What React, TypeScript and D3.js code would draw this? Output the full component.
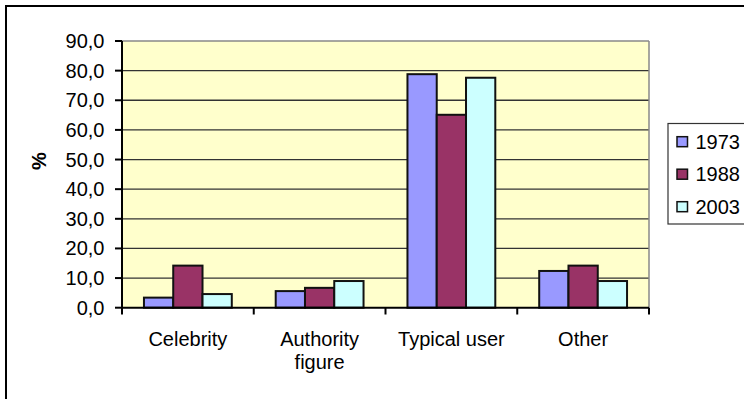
import React from "react";
import * as d3 from "d3";

// Chart data
const categories = ["Celebrity", "Authority figure", "Typical user", "Other"];
const categoryLines = [["Celebrity"], ["Authority", "figure"], ["Typical user"], ["Other"]];
const seriesNames = ["1973", "1988", "2003"];
const values1973 = [3.4, 5.6, 78.8, 12.4];
const values1988 = [14.2, 6.7, 65.1, 14.2];
const values2003 = [4.6, 9.0, 77.6, 9.0];
const yTicks = [0, 10, 20, 30, 40, 50, 60, 70, 80, 90];
const seriesColors = ["#9999FF", "#993366", "#CCFFFF"];

const W = 744;
const H = 399;
const plot = { left: 122, right: 649, top: 41, bottom: 307.7 };
const FONT = "'Liberation Sans', Arial, sans-serif";
const FS = 20;

const fmt = (v: number) => d3.format(".1f")(v).replace(".", ",");

export default function App() {
  const series = [values1973, values1988, values2003];
  const x = d3.scaleBand<string>().domain(categories).range([plot.left, plot.right]).padding(0);
  const xs = d3
    .scaleBand<string>()
    .domain(seriesNames)
    .range([0, x.bandwidth()])
    .paddingInner(0)
    .paddingOuter(0.75);
  const y = d3.scaleLinear().domain([0, 90]).range([plot.bottom, plot.top]);

  const boundaries = [...categories.map((c) => x(c)!), plot.right];

  return (
    <svg
      width={W}
      height={H}
      style={{ position: "absolute", left: 0, top: 0, background: "#fff" }}
      fontFamily={FONT}
    >
      {/* chart area frame */}
      <rect x={6} y={6} width={W + 10} height={H + 10} fill="#fff" stroke="#000" strokeWidth={2} />

      {/* plot area */}
      <rect
        x={plot.left}
        y={plot.top}
        width={plot.right - plot.left}
        height={plot.bottom - plot.top}
        fill="#FFFFCC"
      />
      {/* gridlines */}
      {yTicks.slice(1, -1).map((t) => (
        <line key={t} x1={plot.left} x2={plot.right} y1={y(t)} y2={y(t)} stroke="#333" strokeWidth={1.3} />
      ))}
      {/* plot border top and right */}
      <line x1={plot.left} x2={plot.right} y1={plot.top} y2={plot.top} stroke="#888" strokeWidth={1.5} />
      <line x1={plot.right} x2={plot.right} y1={plot.top} y2={plot.bottom} stroke="#888" strokeWidth={1.5} />

      {/* bars */}
      {series.map((vals, si) =>
        categories.map((c, ci) => {
          const x0 = x(c)! + xs(seriesNames[si])!;
          return (
            <rect
              key={`${si}-${ci}`}
              x={x0}
              y={y(vals[ci])}
              width={xs.bandwidth()}
              height={y(0) - y(vals[ci])}
              fill={seriesColors[si]}
              stroke="#111"
              strokeWidth={2}
            />
          );
        })
      )}

      {/* y axis */}
      <line x1={plot.left} x2={plot.left} y1={plot.top} y2={plot.bottom} stroke="#000" strokeWidth={2} />
      {yTicks.map((t) => (
        <g key={t}>
          <line x1={115} x2={plot.left} y1={y(t)} y2={y(t)} stroke="#000" strokeWidth={2} />
          <text x={104.5} y={y(t)} dy="0.35em" textAnchor="end" fontSize={FS} fill="#000">
            {fmt(t)}
          </text>
        </g>
      ))}
      <text
        transform={`translate(46,161) rotate(-90)`}
        textAnchor="middle"
        fontSize={FS}
        fontWeight="bold"
        fill="#000"
      >
        %
      </text>

      {/* x axis */}
      <line x1={plot.left} x2={plot.right} y1={plot.bottom} y2={plot.bottom} stroke="#000" strokeWidth={2} />
      {boundaries.map((bx, i) => (
        <line key={i} x1={bx} x2={bx} y1={plot.bottom} y2={314.5} stroke="#000" strokeWidth={2} />
      ))}
      {categories.map((c, ci) => (
        <text
          key={c}
          x={x(c)! + x.bandwidth() / 2}
          y={345.5}
          textAnchor="middle"
          fontSize={FS}
          fill="#000"
        >
          {categoryLines[ci].map((line, li) => (
            <tspan key={li} x={x(c)! + x.bandwidth() / 2} dy={li === 0 ? 0 : 23.5}>
              {line}
            </tspan>
          ))}
        </text>
      ))}

      {/* legend */}
      <rect x={668} y={123.5} width={100} height={100.5} fill="#fff" stroke="#333" strokeWidth={1.2} />
      {seriesNames.map((s, i) => {
        const cy = 141.7 + i * 32.5;
        return (
          <g key={s}>
            <rect
              x={677}
              y={cy - 5}
              width={10.5}
              height={10}
              fill={seriesColors[i]}
              stroke="#111"
              strokeWidth={1.5}
            />
            <text x={695.5} y={cy} dy="0.35em" fontSize={FS} fill="#000">
              {s}
            </text>
          </g>
        );
      })}
    </svg>
  );
}
